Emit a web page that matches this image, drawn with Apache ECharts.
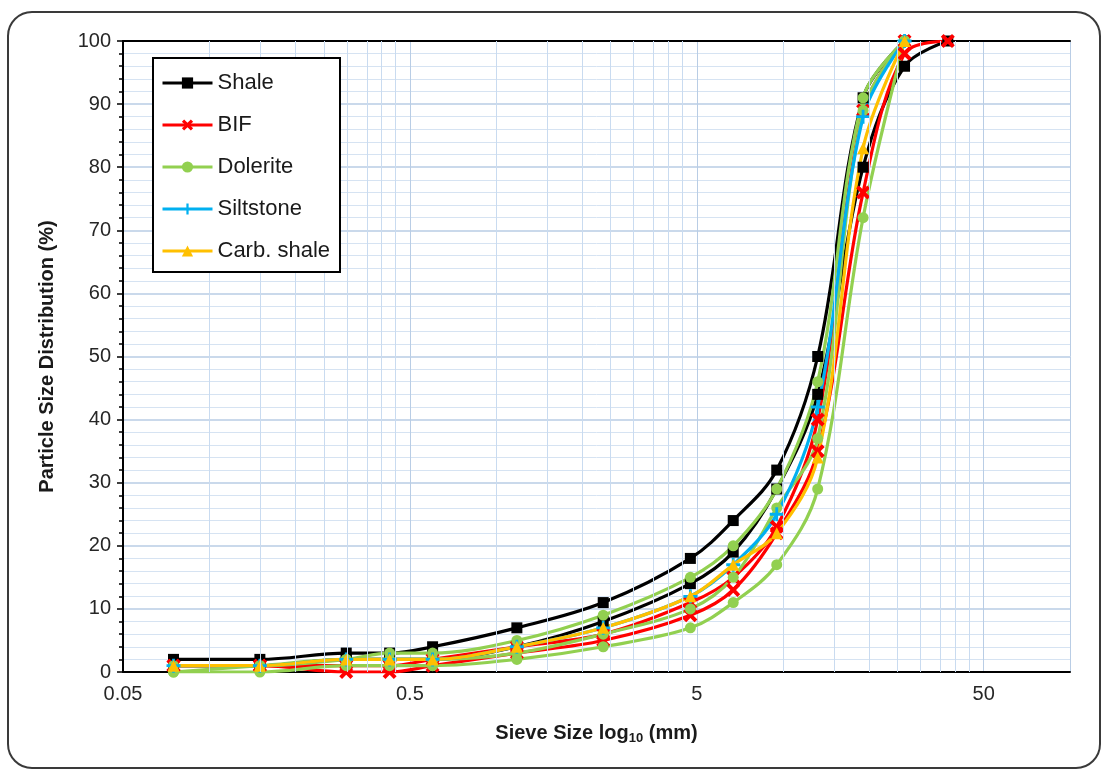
<!DOCTYPE html>
<html>
<head>
<meta charset="utf-8">
<script src="https://cdn.jsdelivr.net/npm/echarts@6/dist/echarts.min.js"></script>
<style>
  html, body { margin: 0; padding: 0; background: #ffffff; }
  #chart { width: 1107px; height: 774px; }
</style>
</head>
<body>
<div id="chart"></div>
<script>
// ---- data ----
const X_MIN = 0.05;           // left end of the log axis (mm)
const X_MAX = 100;            // right end of the log axis (mm)
const sieveSizes = [0.075, 0.15, 0.3, 0.425, 0.6, 1.18, 2.36, 4.75, 6.7, 9.5, 13.2, 19, 26.5, 37.5];
const xTickLabels = ['0.05', '0.5', '5', '50'];
const xMinorGrid = [0.1, 0.15, 0.2, 0.25, 0.3, 0.35, 0.4, 0.45,
                    1, 1.5, 2, 2.5, 3, 3.5, 4, 4.5,
                    10, 15, 20, 25, 30, 35, 40, 45];

const shale1 = [2, 2, 3, 3, 4, 7, 11, 18, 24, 32, 50, 91, 100];
const shale2 = [1, 1, 2, 2, 2, 4, 8, 14, 19, 29, 44, 80, 96, 100];
const bif1   = [1, 1, 0, 0, 1, 3, 5, 9, 13, 22, 35, 76, 98, 100];
const bif2   = [1, 1, 1, 1, 2, 4, 6, 11, 15, 23, 40, 89, 100];
const dol1   = [1, 1, 2, 3, 3, 5, 9, 15, 20, 29, 46, 91, 100];
const dol2   = [0, 1, 2, 2, 2, 3, 6, 10, 15, 26, 37, 89, 100];
const dol3   = [0, 0, 1, 1, 1, 2, 4, 7, 11, 17, 29, 72, 100];
const silt   = [1, 1, 2, 2, 2, 4, 7, 12, 17, 25, 42, 88, 100];
const carb   = [1, 1, 2, 2, 2, 4, 7, 12, 17, 22, 34, 83, 100];

const legendNames = ['Shale', 'BIF', 'Dolerite', 'Siltstone', 'Carb. shale'];

// ---- helpers ----
const lx = s => Math.log10(s / X_MIN);   // position on the log axis (decades from X_MIN)
const pairs = vals => vals.map((v, i) => [lx(sieveSizes[i]), v]);

const SYM_X = 'path://M2,0 L5,3 L8,0 L10,2 L7,5 L10,8 L8,10 L5,7 L2,10 L0,8 L3,5 L0,2 Z';
const SYM_PLUS = 'path://M4,0 L6,0 L6,4 L10,4 L10,6 L6,6 L6,10 L4,10 L4,6 L0,6 L0,4 L4,4 Z';

const styles = {
  'Shale':       { color: '#000000', symbol: 'rect',     size: 11 },
  'BIF':         { color: '#ff0000', symbol: SYM_X,      size: 14 },
  'Dolerite':    { color: '#92d050', symbol: 'circle',   size: 11 },
  'Siltstone':   { color: '#00b0f0', symbol: SYM_PLUS,   size: 14 },
  'Carb. shale': { color: '#ffc000', symbol: 'triangle', size: 12 }
};

function mk(name, vals) {
  const st = styles[name];
  return {
    name: name,
    type: 'line',
    smooth: 0.35,
    data: pairs(vals),
    symbol: st.symbol,
    symbolSize: st.size,
    showAllSymbol: true,
    itemStyle: { color: st.color },
    lineStyle: { color: st.color, width: 3.2 },
    emphasis: { disabled: true },
    z: 3
  };
}

const gridMinor = {
  type: 'line',
  data: [],
  silent: true,
  z: 1,
  markLine: {
    silent: true,
    symbol: 'none',
    label: { show: false },
    lineStyle: { color: '#c9dbf0', width: 1, type: 'solid' },
    animation: false,
    data: xMinorGrid.map(v => ({ xAxis: lx(v) }))
  }
};

const chart = echarts.init(document.getElementById('chart'), null, { renderer: 'canvas' });

chart.setOption({
  animation: false,
  backgroundColor: '#ffffff',
  textStyle: { fontFamily: 'Liberation Sans, Arial, sans-serif' },
  graphic: [{
    type: 'rect',
    shape: { x: 8, y: 12, width: 1092, height: 756, r: 24 },
    style: { fill: 'none', stroke: '#3a3a3a', lineWidth: 2 },
    silent: true,
    z: -10
  }],
  grid: { left: 123, right: 37, top: 41, bottom: 102 },
  legend: {
    data: legendNames,
    orient: 'vertical',
    left: 153,
    top: 58,
    itemWidth: 50,
    itemHeight: 14,
    itemGap: 20,
    padding: [14, 10, 10, 8],
    backgroundColor: '#ffffff',
    borderColor: '#000000',
    borderWidth: 2,
    lineStyle: { width: 3 },
    textStyle: { fontSize: 22, color: '#1a1a1a', fontFamily: 'Liberation Sans, Arial, sans-serif' },
    selectedMode: false,
    z: 10
  },
  xAxis: [{
    type: 'value',
    min: 0,
    max: lx(X_MAX),
    interval: 1,
    name: '{b|Sieve Size log}{s|10}{b| (mm)}',
    nameLocation: 'middle',
    nameGap: 50,
    nameTextStyle: {
      rich: {
        b: { fontSize: 20, fontWeight: 'bold', color: '#1a1a1a', fontFamily: 'Liberation Sans, Arial, sans-serif' },
        s: { fontSize: 13, fontWeight: 'bold', color: '#1a1a1a', verticalAlign: 'bottom', padding: [10, 0, 0, 0], fontFamily: 'Liberation Sans, Arial, sans-serif' }
      }
    },
    axisLine: { show: true, onZero: false, lineStyle: { color: '#000000', width: 2 } },
    axisTick: { show: false },
    axisLabel: {
      fontSize: 20,
      color: '#262626',
      margin: 12,
      showMaxLabel: false,
      formatter: v => {
        const i = Math.round(v);
        return (Math.abs(v - i) < 1e-6 && i < xTickLabels.length) ? xTickLabels[i] : '';
      }
    },
    splitLine: { show: true, lineStyle: { color: '#b9cde5', width: 1 } }
  }, {
    type: 'value',
    position: 'top',
    min: 0,
    max: lx(X_MAX),
    axisLine: { show: true, onZero: false, lineStyle: { color: '#000000', width: 2 } },
    axisTick: { show: false },
    axisLabel: { show: false },
    splitLine: { show: false }
  }],
  yAxis: {
    type: 'value',
    min: 0,
    max: 100,
    interval: 10,
    name: 'Particle Size Distribution (%)',
    nameLocation: 'middle',
    nameGap: 66,
    nameTextStyle: { fontSize: 20, fontWeight: 'bold', color: '#1a1a1a' },
    axisLine: { show: true, lineStyle: { color: '#000000', width: 2 } },
    axisTick: { show: true, length: 6, lineStyle: { color: '#000000', width: 1.5 } },
    minorTick: { show: true, splitNumber: 5, length: 4, lineStyle: { color: '#000000', width: 1.5 } },
    axisLabel: { fontSize: 20, color: '#262626', margin: 12 },
    splitLine: { show: true, lineStyle: { color: '#b9cde5', width: 1.5 } },
    minorSplitLine: { show: true, lineStyle: { color: '#d6e3f2', width: 1 } }
  },
  series: [
    gridMinor,
    mk('Shale', shale1),
    mk('Shale', shale2),
    mk('BIF', bif1),
    mk('BIF', bif2),
    mk('Dolerite', dol1),
    mk('Dolerite', dol2),
    mk('Dolerite', dol3),
    mk('Siltstone', silt),
    mk('Carb. shale', carb)
  ]
});
</script>
</body>
</html>
